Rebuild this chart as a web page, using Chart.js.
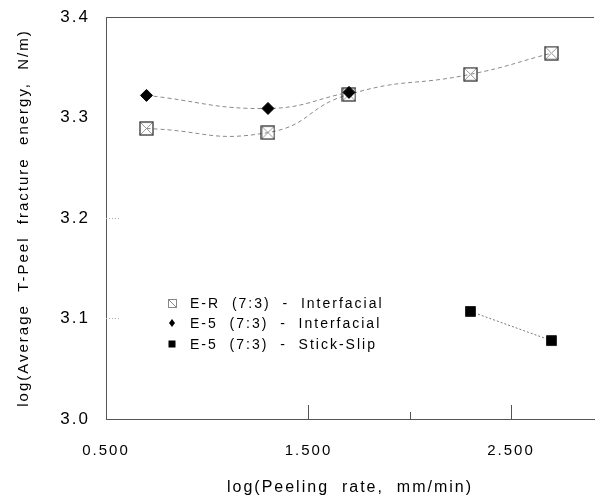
<!DOCTYPE html>
<html><head><meta charset="utf-8">
<script src="https://cdn.jsdelivr.net/npm/chart.js@4"></script>
<style>html,body{margin:0;padding:0;background:#fff;overflow:hidden;}</style>
</head><body>
<canvas id="c" width="603" height="497"></canvas>
<script>
// ---- data ----
const seriesNames = ['E-R  (7:3)  -  Interfacial', 'E-5  (7:3)  -  Interfacial', 'E-5  (7:3)  -  Stick-Slip'];
const erX = [0.7, 1.3, 1.7, 2.3, 2.7];
const erY = [3.289, 3.285, 3.323, 3.343, 3.364];
const e5X = [0.7, 1.3, 1.7];
const e5Y = [3.322, 3.309, 3.325];
const ssX = [2.3, 2.7];
const ssY = [3.107, 3.078];
const xTicks = [0.5, 1.5, 2.5];
const xMinorTicks = [2.0];
const yTicks = [3.0, 3.1, 3.2, 3.3, 3.4];
const yInnerTicks = [3.1, 3.2];
const xTitle = 'log(Peeling  rate,  mm/min)';
const yTitle = 'log(Average  T-Peel  fracture  energy,  N/m)';

const FONT = '"Liberation Sans", Arial, Helvetica, sans-serif';
Chart.defaults.font.family = FONT;
Chart.defaults.color = '#000';

function makeBoxX(size, stroke) {
  const c = document.createElement('canvas');
  c.width = c.height = size;
  const g = c.getContext('2d');
  g.strokeStyle = '#9a9a9a'; g.lineWidth = 1;
  g.beginPath();
  g.moveTo(1.5, 1.5); g.lineTo(size - 1.5, size - 1.5);
  g.moveTo(size - 1.5, 1.5); g.lineTo(1.5, size - 1.5);
  g.stroke();
  g.strokeStyle = stroke; g.lineWidth = 1.3;
  g.strokeRect(1, 1, size - 2, size - 2);
  return c;
}
const boxX = makeBoxX(15, '#333');

const zip = (xs, ys) => xs.map((x, i) => ({x: x, y: ys[i]}));

const spacingPlugin = {
  id: 'spacing',
  beforeLayout(chart) { chart.ctx.letterSpacing = '2px'; },
  beforeDraw(chart) { chart.ctx.letterSpacing = '2px'; }
};

const extrasPlugin = {
  id: 'extras',
  afterDraw(chart) {
    const ctx = chart.ctx, xs = chart.scales.x, ys = chart.scales.y;
    const area = chart.chartArea;
    ctx.save();
    // inward x ticks
    ctx.strokeStyle = '#555'; ctx.lineWidth = 1;
    ctx.beginPath();
    xTicks.slice(1).forEach(v => {
      const px = Math.round(xs.getPixelForValue(v)) + 0.5;
      ctx.moveTo(px, area.bottom); ctx.lineTo(px, area.bottom - 14);
    });
    xMinorTicks.forEach(v => {
      const px = Math.round(xs.getPixelForValue(v)) + 0.5;
      ctx.moveTo(px, area.bottom); ctx.lineTo(px, area.bottom - 7);
    });
    ctx.stroke();
    // faint inner y ticks
    ctx.strokeStyle = '#aaa'; ctx.setLineDash([1, 2]);
    ctx.beginPath();
    yInnerTicks.forEach(v => {
      const py = Math.round(ys.getPixelForValue(v)) + 0.5;
      ctx.moveTo(area.left, py); ctx.lineTo(area.left + 14, py);
    });
    ctx.stroke();
    ctx.setLineDash([]);
    // legend
    const lx = 172, tx = 190, rows = [303, 323, 344];
    ctx.strokeStyle = '#888'; ctx.lineWidth = 1;
    ctx.strokeRect(lx - 3.5, rows[0] - 3.5, 8, 8);
    ctx.beginPath();
    ctx.moveTo(lx - 3.5, rows[0] - 3.5); ctx.lineTo(lx + 4.5, rows[0] + 4.5);
    ctx.moveTo(lx + 4.5, rows[0] - 3.5); ctx.lineTo(lx + 1, rows[0] - 3.5);
    ctx.stroke();
    ctx.fillStyle = '#000';
    ctx.beginPath();
    ctx.moveTo(lx, rows[1] - 4); ctx.lineTo(lx + 3, rows[1]); ctx.lineTo(lx, rows[1] + 4); ctx.lineTo(lx - 3, rows[1]);
    ctx.closePath(); ctx.fill();
    ctx.fillRect(lx - 3.5, rows[2] - 3.5, 7, 7);
    ctx.font = '14px ' + FONT;
    ctx.letterSpacing = '2px';
    ctx.textBaseline = 'middle'; ctx.textAlign = 'left';
    seriesNames.forEach((n, i) => ctx.fillText(n, tx, rows[i] + 1));
    ctx.restore();
  }
};

new Chart(document.getElementById('c'), {
  type: 'scatter',
  data: {
    datasets: [
      {
        label: seriesNames[1], data: zip(e5X, e5Y), order: 0,
        showLine: true, tension: 0.45, borderColor: '#8a8a8a', borderWidth: 1, borderDash: [4, 3],
        pointStyle: 'rectRot', pointRadius: 6, pointBackgroundColor: '#000', pointBorderColor: '#000', pointBorderWidth: 1
      },
      {
        label: seriesNames[0], data: zip(erX, erY), order: 1,
        showLine: true, tension: 0.5, borderColor: '#8a8a8a', borderWidth: 1, borderDash: [4, 3],
        pointStyle: boxX, pointRadius: 8
      },
      {
        label: seriesNames[2], data: zip(ssX, ssY), order: 2,
        showLine: true, tension: 0, borderColor: '#777', borderWidth: 1, borderDash: [2, 2],
        pointStyle: 'rect', pointRadius: 7, pointBackgroundColor: '#000', pointBorderColor: '#222', pointBorderWidth: 1
      }
    ]
  },
  options: {
    responsive: false,
    animation: false,
    devicePixelRatio: 1,
    layout: {padding: {top: 17, right: 0, left: 0, bottom: 0}},
    plugins: {legend: {display: false}, tooltip: {enabled: false}},
    scales: {
      x: {
        type: 'linear', min: 0.5, max: 2.91,
        afterBuildTicks: s => { s.ticks = xTicks.map(v => ({value: v})); },
        afterFit: s => { s.height = 78; s.paddingLeft = 0; s.paddingRight = 0; },
        grid: {display: false},
        border: {display: true, color: '#555', width: 1},
        ticks: {font: {size: 15}, padding: 15, maxRotation: 0, callback: v => Number(v).toFixed(3)},
        title: {display: true, text: xTitle, font: {size: 16}, padding: {top: 0, bottom: 0}}
      },
      y: {
        type: 'linear', min: 3.0, max: 3.4,
        afterBuildTicks: s => { s.ticks = yTicks.map(v => ({value: v})); },
        afterFit: s => { s.width = 106; s.paddingTop = 0; s.paddingBottom = 0; },
        grid: {drawTicks: false, color: c => (c.tick && Math.abs(c.tick.value - 3.4) < 1e-9) ? '#555' : 'rgba(0,0,0,0)'},
        border: {display: true, color: '#555', width: 1},
        ticks: {font: {size: 17}, padding: 16, callback: v => Number(v).toFixed(1)},
        title: {display: true, text: yTitle, font: {size: 15}, padding: {top: 15, bottom: 0}}
      }
    }
  },
  plugins: [spacingPlugin, extrasPlugin]
});
</script>
</body></html>
